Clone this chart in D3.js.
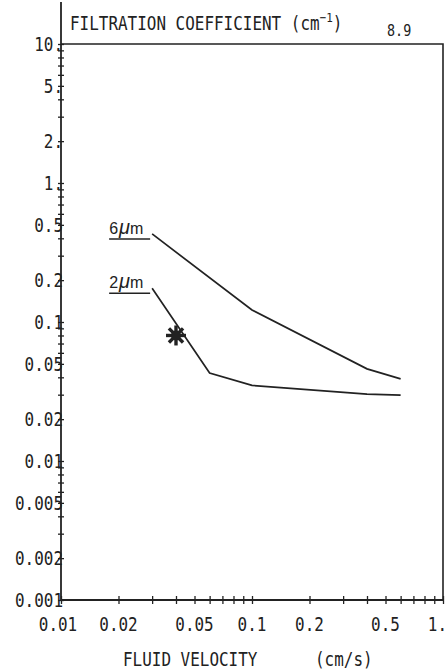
<!DOCTYPE html>
<html>
<head>
<meta charset="utf-8">
<script src="https://cdn.jsdelivr.net/npm/d3@7"></script>
<style>
  body { margin: 0; background: #fff; }
  svg text { fill: #222; }
</style>
</head>
<body>
<svg id="chart" width="448" height="672"></svg>
<script>
// Filtration coefficient vs. fluid velocity, two fibre diameters
const velocity6um = [0.03, 0.1, 0.4, 0.6];
const coef6um     = [0.43, 0.122, 0.046, 0.039];
const velocity2um = [0.03, 0.06, 0.1, 0.4, 0.6];
const coef2um     = [0.175, 0.043, 0.035, 0.0303, 0.0298];
const markVelocity = [0.04];
const markCoef     = [0.08];
const xTickValues = [0.01, 0.02, 0.05, 0.1, 0.2, 0.5, 1];
const xTickLabels = ["0.01", "0.02", "0.05", "0.1", "0.2", "0.5", "1."];
const yTickValues = [0.001, 0.002, 0.005, 0.01, 0.02, 0.05, 0.1, 0.2, 0.5, 1, 2, 5, 10];
const yTickLabels = ["0.001", "0.002", "0.005", "0.01", "0.02", "0.05", "0.1", "0.2", "0.5", "1.", "2.", "5.", "10."];
const seriesLabels = ["6", "2"];

const ink = "#222";
const mono = "'DejaVu Sans Mono', monospace";

const svg = d3.select("#chart");
const plotLeft = 61, plotRight = 443, plotTop = 44, plotBottom = 600;

const x = d3.scaleLog().domain([0.01, 1]).range([plotLeft, plotRight]);
const y = d3.scaleLog().domain([0.001, 10]).range([plotBottom, plotTop]);

// narrow plotter-style lettering: tall monospace squeezed horizontally
function plotterText(px, py, anchor, size) {
  return svg.append("text")
    .attr("transform", `translate(${px},${py}) scale(0.84,1)`)
    .attr("text-anchor", anchor)
    .style("font-family", mono).style("font-size", size + "px");
}

// minor ticks: 1..9 within each decade
function decadeTicks(lo, hi) {
  const out = [];
  for (let e = Math.log10(lo); e < Math.log10(hi) - 1e-9; e++) {
    for (let m = 1; m <= 9; m++) out.push(m * Math.pow(10, e));
  }
  out.push(hi);
  return out;
}

// frame (top + right)
svg.append("path")
  .attr("d", `M${plotLeft},${plotTop}H${plotRight}V${plotBottom}`)
  .attr("fill", "none").attr("stroke", ink).attr("stroke-width", 1.6);

// Y axis with ticks crossing the line
const yAxis = svg.append("g").attr("transform", `translate(${plotLeft},0)`)
  .call(d3.axisLeft(y).tickValues(decadeTicks(0.001, 10)).tickSize(3).tickFormat(""));
yAxis.select(".domain").remove();
yAxis.selectAll(".tick line").attr("x1", -3).attr("x2", 3).attr("stroke", ink).attr("stroke-width", 1.3);
svg.append("line").attr("x1", plotLeft).attr("x2", plotLeft).attr("y1", 2).attr("y2", plotBottom)
  .attr("stroke", ink).attr("stroke-width", 1.8);

yTickValues.forEach((v, i) => {
  plotterText(plotLeft + 2, y(v) + 7, "end", 19).text(yTickLabels[i]);
});

// X axis
const xAxis = svg.append("g").attr("transform", `translate(0,${plotBottom})`)
  .call(d3.axisBottom(x).tickValues(decadeTicks(0.01, 1)).tickSize(3).tickFormat(""));
xAxis.select(".domain").remove();
xAxis.selectAll(".tick line").attr("y1", -4).attr("y2", 4).attr("stroke", ink).attr("stroke-width", 1.3);
svg.append("line").attr("x1", plotLeft).attr("x2", plotRight).attr("y1", plotBottom).attr("y2", plotBottom)
  .attr("stroke", ink).attr("stroke-width", 1.8);

xTickValues.forEach((v, i) => {
  const last = i === xTickValues.length - 1;
  plotterText(last ? 447 : x(v) + (i === 0 ? -3 : 0), 631, last ? "end" : "middle", 19)
    .text(xTickLabels[i]);
});

// titles
const title = plotterText(70, 30, "start", 19);
title.append("tspan").text("FILTRATION COEFFICIENT (cm");
title.append("tspan").attr("dy", -8).style("font-size", "13px").text("\u22121");
title.append("tspan").attr("dy", 8).text(")");

plotterText(387, 36, "start", 16).text("8.9");

plotterText(123, 666, "start", 19).text("FLUID VELOCITY");
plotterText(315, 666, "start", 19).text("(cm/s)");

// data lines
const line = d3.line().x(d => x(d[0])).y(d => y(d[1]));
const series = [
  d3.zip(velocity6um, coef6um),
  d3.zip(velocity2um, coef2um)
];
series.forEach(pts => {
  svg.append("path").datum(pts)
    .attr("d", line)
    .attr("fill", "none").attr("stroke", ink).attr("stroke-width", 1.7);
});

// series labels, underlined, at the start of each line
series.forEach((pts, i) => {
  const px = x(pts[0][0]) - 43, py = y(pts[0][1]);
  const t = svg.append("text").attr("x", px).attr("y", py)
    .style("font-family", "'Liberation Sans', Arial, sans-serif").style("font-size", "16px");
  t.append("tspan").text(seriesLabels[i]);
  t.append("tspan").attr("dx", 1).style("font-style", "italic").style("font-size", "20px").text("\u03bc");
  t.append("tspan").style("font-size", "16px").text("m");
  svg.append("line").attr("x1", px).attr("x2", px + 41)
    .attr("y1", py + 5).attr("y2", py + 5)
    .attr("stroke", ink).attr("stroke-width", 1.6);
});

// asterisk marker
d3.zip(markVelocity, markCoef).forEach(([v, c]) => {
  const cx = x(v), cy = y(c), r = 10;
  const g = svg.append("g");
  d3.range(4).forEach(k => {
    const a = k * Math.PI / 4;
    g.append("line")
      .attr("x1", cx - r * Math.cos(a)).attr("y1", cy - r * Math.sin(a))
      .attr("x2", cx + r * Math.cos(a)).attr("y2", cy + r * Math.sin(a))
      .attr("stroke", ink).attr("stroke-width", 3.4);
  });
  g.append("circle").attr("cx", cx).attr("cy", cy).attr("r", 5).attr("fill", ink);
});
</script>
</body>
</html>
